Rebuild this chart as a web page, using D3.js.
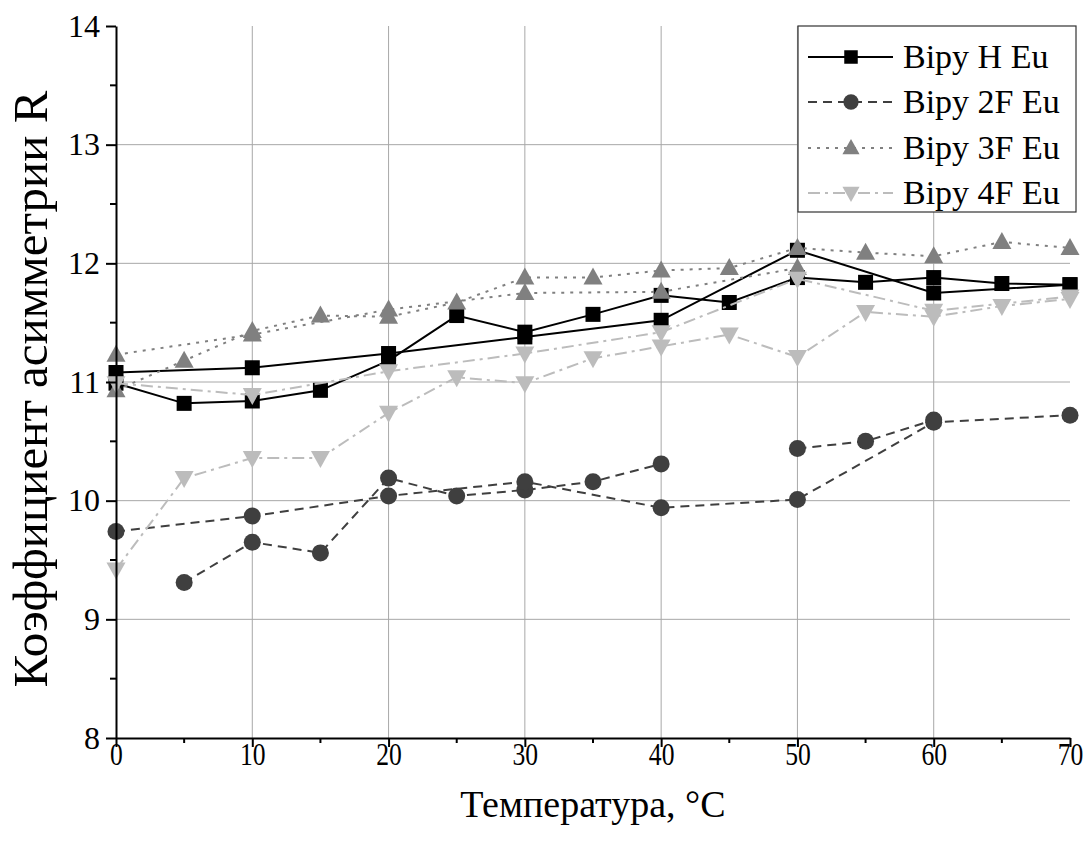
<!DOCTYPE html>
<html>
<head>
<meta charset="utf-8">
<script src="https://cdn.jsdelivr.net/npm/d3@7"></script>
<style>
  html, body { margin: 0; padding: 0; background: #fff; }
  svg { display: block; }
  svg text { font-family: "Liberation Serif", "Times New Roman", "DejaVu Serif", serif !important; fill: #000; }
</style>
</head>
<body>
<svg id="chart" width="1087" height="849"></svg>
<script>
// ---------------- DATA ----------------
const temps5 = [0, 5, 10, 15, 20, 25, 30, 35, 40, 45, 50, 55, 60, 65, 70];
const temps10 = [0, 10, 20, 30, 40, 50, 60, 70];

const xTickLabels = ["0", "10", "20", "30", "40", "50", "60", "70"];
const yTickLabels = ["8", "9", "10", "11", "12", "13", "14"];

const seriesNames = ["Bipy H Eu", "Bipy 2F Eu", "Bipy 3F Eu", "Bipy 4F Eu"];

// 5-degree runs
const hEu5  = [10.99, 10.82, 10.84, 10.93, 11.18, 11.56, 11.42, 11.57, 11.73, 11.67, 11.88, 11.84, 11.88, 11.83, 11.82];
const f2Eu5 = [null, 9.31, 9.65, 9.56, 10.19, 10.04, 10.09, 10.16, 10.31, null, 10.44, 10.50, 10.68, null, null];
const f3Eu5 = [10.93, 11.18, 11.43, 11.56, 11.55, 11.67, 11.88, 11.88, 11.94, 11.96, 12.13, 12.09, 12.06, 12.18, 12.13];
const f4Eu5 = [9.42, 10.19, 10.36, 10.36, 10.74, 11.04, 10.99, 11.20, 11.30, 11.40, 11.21, 11.59, 11.55, 11.64, 11.70];

// 10-degree runs
const hEu10  = [11.08, 11.12, 11.24, 11.38, 11.52, 12.11, 11.75, 11.82];
const f2Eu10 = [9.74, 9.87, 10.04, 10.16, 9.94, 10.01, 10.66, 10.72];
const f3Eu10 = [11.23, 11.40, 11.61, 11.75, 11.76, 11.96, null, null];
const f4Eu10 = [10.99, 10.89, 11.09, 11.24, 11.42, 11.87, 11.60, 11.72];

// ---------------- STYLE ----------------
const FONT = '"Liberation Serif", "Times New Roman", serif';
const styles = [
  { color: "#000000", dash: null,        marker: "square" },
  { color: "#3f3f3f", dash: "9,6",       marker: "circle" },
  { color: "#808080", dash: "3,6",       marker: "triangleUp" },
  { color: "#bcbcbc", dash: "12,5,3,5",  marker: "triangleDown" }
];
const runs5  = [hEu5, f2Eu5, f3Eu5, f4Eu5];
const runs10 = [hEu10, f2Eu10, f3Eu10, f4Eu10];

// ---------------- SCALES ----------------
const X0 = 116, X1 = 1070, Y0 = 738, Y1 = 26;
const x = d3.scaleLinear().domain([0, 70]).range([X0, X1]);
const y = d3.scaleLinear().domain([8, 14]).range([Y0, Y1]);

const svg = d3.select("#chart");

// grid
const gridColor = "#a8a8a8";
svg.append("g").selectAll("line")
  .data(xTickLabels.map(Number).filter(v => v > 0 && v < 70))
  .join("line")
  .attr("x1", d => x(d)).attr("x2", d => x(d))
  .attr("y1", Y0).attr("y2", Y1)
  .attr("stroke", gridColor).attr("stroke-width", 1);
svg.append("g").selectAll("line")
  .data(yTickLabels.map(Number).filter(v => v > 8 && v < 14))
  .join("line")
  .attr("x1", X0).attr("x2", X1)
  .attr("y1", d => y(d)).attr("y2", d => y(d))
  .attr("stroke", gridColor).attr("stroke-width", 1);

// markers
function drawMarker(g, type, cx, cy, color, s) {
  s = s || 1;
  if (type === "square") {
    const h = 7.5 * s;
    g.append("rect").attr("x", cx - h).attr("y", cy - h).attr("width", 2 * h).attr("height", 2 * h).attr("fill", color);
  } else if (type === "circle") {
    g.append("circle").attr("cx", cx).attr("cy", cy).attr("r", 8.5 * s).attr("fill", color);
  } else if (type === "triangleUp") {
    const w = 9.5 * s, h1 = 10 * s, h2 = 7 * s;
    g.append("path").attr("d", `M${cx},${cy - h1}L${cx + w},${cy + h2}L${cx - w},${cy + h2}Z`).attr("fill", color);
  } else {
    const w = 9.5 * s, h1 = 10 * s, h2 = 7 * s;
    g.append("path").attr("d", `M${cx},${cy + h1}L${cx + w},${cy - h2}L${cx - w},${cy - h2}Z`).attr("fill", color);
  }
}

const line = d3.line()
  .defined(d => d.v !== null)
  .x(d => x(d.t)).y(d => y(d.v));

const plot = svg.append("g");
styles.forEach((st, i) => {
  const g = plot.append("g");
  const a = temps5.map((t, k) => ({ t, v: runs5[i][k] }));
  const b = temps10.map((t, k) => ({ t, v: runs10[i][k] }));
  [a, b].forEach(run => {
    g.append("path").datum(run)
      .attr("d", line)
      .attr("fill", "none")
      .attr("stroke", st.color)
      .attr("stroke-width", 2)
      .attr("stroke-dasharray", st.dash);
  });
  [a, b].forEach(run => {
    run.filter(d => d.v !== null).forEach(d => drawMarker(g, st.marker, x(d.t), y(d.v), st.color));
  });
});

// axes
const xAxis = d3.axisBottom(x).tickValues(xTickLabels.map(Number)).tickFormat((d, i) => xTickLabels[i]).tickSize(9).tickSizeOuter(0).tickPadding(4);
const gx = svg.append("g").attr("transform", `translate(0,${Y0})`).call(xAxis)
  .attr("font-family", FONT);
gx.select(".domain").attr("stroke", "#000").attr("stroke-width", 2);
gx.selectAll(".tick line").attr("stroke", "#000").attr("stroke-width", 2);
gx.selectAll(".tick text")
  .attr("font-size", 32)
  .attr("font-family", FONT)
  .attr("y", 0).attr("dy", null)
  .attr("transform", "translate(0,27) scale(0.8,1)");

const minorX = d3.range(5, 70, 10);
svg.append("g").selectAll("line").data(minorX).join("line")
  .attr("x1", d => x(d)).attr("x2", d => x(d))
  .attr("y1", Y0).attr("y2", Y0 + 5)
  .attr("stroke", "#000").attr("stroke-width", 2);

const yAxis = d3.axisLeft(y).tickValues(yTickLabels.map(Number)).tickFormat((d, i) => yTickLabels[i]).tickSize(10).tickSizeOuter(0).tickPadding(6);
const gy = svg.append("g").attr("transform", `translate(${X0},0)`).call(yAxis)
  .attr("font-family", FONT);
gy.select(".domain").attr("stroke", "#000").attr("stroke-width", 2);
gy.selectAll(".tick line").attr("stroke", "#000").attr("stroke-width", 2);
gy.selectAll(".tick text").attr("font-size", 32).attr("font-family", FONT);

const minorY = d3.range(8.5, 14, 1);
svg.append("g").selectAll("line").data(minorY).join("line")
  .attr("x1", X0 - 6).attr("x2", X0)
  .attr("y1", d => y(d)).attr("y2", d => y(d))
  .attr("stroke", "#000").attr("stroke-width", 2);

// axis titles
svg.append("text")
  .attr("x", 593).attr("y", 817)
  .attr("text-anchor", "middle")
  .attr("font-family", FONT)
  .attr("font-size", 38)
  .text("Температура, °С");

svg.append("text")
  .attr("transform", "translate(47,389) rotate(-90)")
  .attr("text-anchor", "middle")
  .attr("font-family", FONT)
  .attr("font-size", 49)
  .text("Коэффициент асимметрии R");

// legend
const lg = svg.append("g");
lg.append("rect").attr("x", 798).attr("y", 26).attr("width", 278).attr("height", 186)
  .attr("fill", "#fff").attr("stroke", "#333").attr("stroke-width", 1.2);
const rowY = [57, 102, 148, 193];
seriesNames.forEach((name, i) => {
  const st = styles[i];
  lg.append("line").attr("x1", 808).attr("x2", 893).attr("y1", rowY[i]).attr("y2", rowY[i])
    .attr("stroke", st.color).attr("stroke-width", 2).attr("stroke-dasharray", st.dash);
  drawMarker(lg, st.marker, 851, rowY[i], st.color, 0.9);
  lg.append("text").attr("x", 903).attr("y", rowY[i] + 11)
    .attr("font-family", FONT).attr("font-size", 34).text(name);
});
</script>
</body>
</html>
